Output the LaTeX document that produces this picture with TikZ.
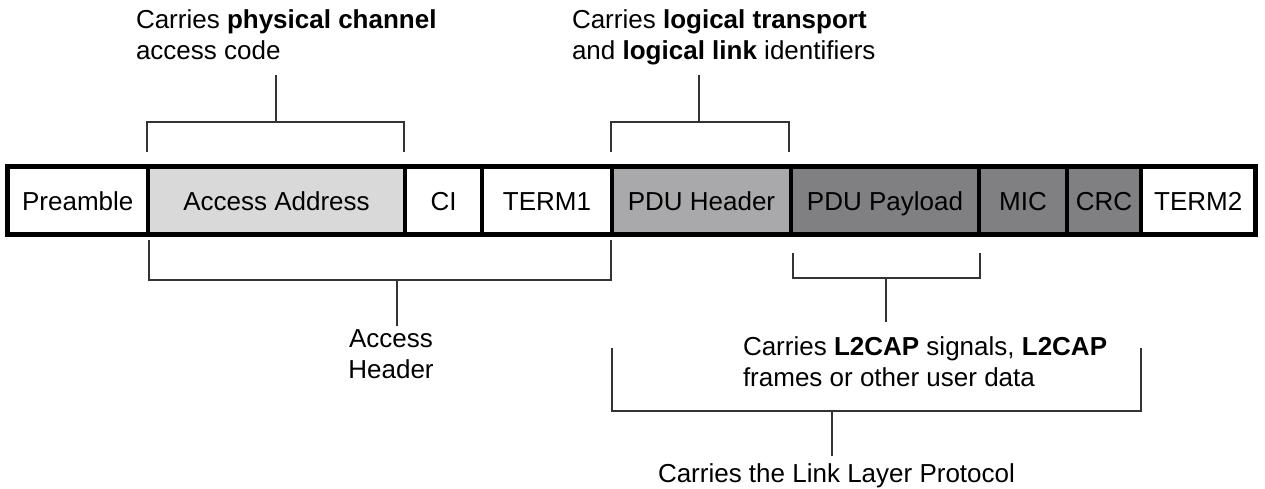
\documentclass[tikz,border=0pt]{standalone}
\usepackage{fontspec}
\setmainfont{Liberation Sans}
\definecolor{aagray}{HTML}{D9D9D9}
\definecolor{phgray}{HTML}{A9A9AB}
\definecolor{pdgray}{HTML}{808082}
\definecolor{brk}{HTML}{333333}
\begin{document}
\begin{tikzpicture}[x=1pt,y=-1pt,
  txt/.style={font=\fontsize{26}{31}\selectfont, inner sep=0pt, outer sep=0pt},
  cell/.style={draw=black, line width=4.5pt, minimum height=68pt, inner sep=0pt, outer sep=0pt,
    text height=18.6pt, text depth=0pt, font=\fontsize{26}{31}\selectfont},
  bracket/.style={draw=brk, line width=1.6pt}]
\useasboundingbox (0,0) rectangle (1265,489);
% cells
\node[cell, fill=white,  minimum width=140.5pt] (pre)  at (77.75,201) {Preamble};
\node[cell, fill=aagray, minimum width=257pt]   (aa)   at (276.5,201) {Access Address};
\node[cell, fill=white,  minimum width=77pt]    (ci)   at (443.5,201) {CI};
\node[cell, fill=white,  minimum width=130pt]   (t1)   at (547,201)   {TERM1};
\node[cell, fill=phgray, minimum width=179pt]   (ph)   at (701.5,201) {PDU Header};
\node[cell, fill=pdgray, minimum width=188pt]   (pp)   at (885,201)   {PDU Payload};
\node[cell, fill=pdgray, minimum width=88pt]    (mic)  at (1023,201)  {MIC};
\node[cell, fill=pdgray, minimum width=74pt]    (crc)  at (1104,201)  {CRC};
\node[cell, fill=white,  minimum width=114.5pt] (t2)   at (1198.25,201) {TERM2};
\draw[line width=5pt] (7.5,166.5) rectangle (1255.5,234.5);
% labels
\node[txt, anchor=north west, align=left] (lab1) at (136,9.5)
  {Carries \textbf{physical channel}\\access code};
\node[txt, anchor=north west, align=left] (lab2) at (572,9.5)
  {Carries \textbf{logical transport}\\and \textbf{logical link} identifiers};
\node[txt, anchor=north, align=center] (lab3) at (391,329.5)
  {Access\\Header};
\node[txt, anchor=north west, align=left] (lab4) at (743,336.5)
  {Carries \textbf{L2CAP} signals, \textbf{L2CAP}\\frames or other user data};
\node[txt, anchor=north west] (lab5) at (658,463.5)
  {Carries the Link Layer Protocol};
% bracket coordinates
\coordinate (b1a) at (147,152); \coordinate (b1b) at (147,122);
\coordinate (b1c) at (404,122); \coordinate (b1d) at (404,152);
\coordinate (b1m) at (276,122); \coordinate (b1t) at (276,75);
\coordinate (b2a) at (611,152); \coordinate (b2b) at (611,122);
\coordinate (b2c) at (789,122); \coordinate (b2d) at (789,152);
\coordinate (b2m) at (699,122); \coordinate (b2t) at (699,75);
\coordinate (b3a) at (149,240); \coordinate (b3b) at (149,280);
\coordinate (b3c) at (611,280); \coordinate (b3d) at (611,240);
\coordinate (b3m) at (397,280); \coordinate (b3t) at (397,326);
\coordinate (b4a) at (793,253); \coordinate (b4b) at (793,278);
\coordinate (b4c) at (980,278); \coordinate (b4d) at (980,253);
\coordinate (b4m) at (886,278); \coordinate (b4t) at (886,322);
\coordinate (b5a) at (612,348); \coordinate (b5b) at (612,411);
\coordinate (b5c) at (1141,411); \coordinate (b5d) at (1141,348);
\coordinate (b5m) at (832,411); \coordinate (b5t) at (832,456);
% brackets
\draw[bracket] (b1a) -- (b1b) -- (b1c) -- (b1d);
\draw[bracket] (b1m) -- (b1t);
\draw[bracket] (b2a) -- (b2b) -- (b2c) -- (b2d);
\draw[bracket] (b2m) -- (b2t);
\draw[bracket] (b3a) -- (b3b) -- (b3c) -- (b3d);
\draw[bracket] (b3m) -- (b3t);
\draw[bracket] (b4a) -- (b4b) -- (b4c) -- (b4d);
\draw[bracket] (b4m) -- (b4t);
\draw[bracket] (b5a) -- (b5b) -- (b5c) -- (b5d);
\draw[bracket] (b5m) -- (b5t);
\end{tikzpicture}
\end{document}
